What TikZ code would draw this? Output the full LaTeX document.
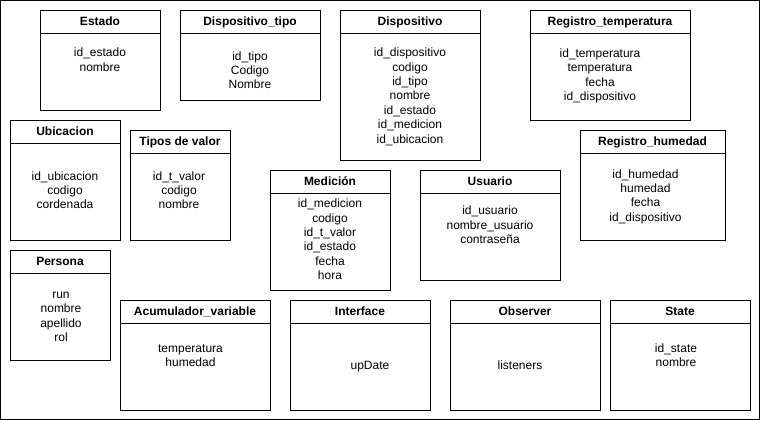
\documentclass[tikz,border=0pt]{standalone}
\usepackage{fontspec}
\setmainfont{Liberation Sans}

\tikzset{every picture/.style={line width=0.75pt}}
\tikzset{
  titulo/.style={anchor=base, inner sep=0pt, font=\fontsize{9}{10.8}\selectfont\bfseries},
  % base = baseline of the last line
  campos/.style={anchor=base, inner sep=0pt, align=center, font=\fontsize{9}{10.8}\selectfont},
}

\begin{document}
\begin{tikzpicture}[x=0.75pt,y=0.75pt,yscale=-1,xscale=1]
    \useasboundingbox (0,0) rectangle (761,421);
    %Shape: Rectangle [id:marco] 
    \draw   (0.5,0.5) rectangle (759,419.5) ;

    %Shape: Rectangle [id:estado] 
    \draw   (40,10) rectangle (160,110) ;
    \draw   (40,33) -- (160,33) ;
    % Text Node
    \draw (100,25.5) node (estadoT) [titulo]  {Estado};
    % Text Node
    \draw (100,71.1) node (estadoC) [campos]  {id\_estado\\nombre};

    %Shape: Rectangle [id:dispositivo_tipo] 
    \draw   (180,10) rectangle (320,100) ;
    \draw   (180,33) -- (320,33) ;
    % Text Node
    \draw (250,25.5) node (tipoT) [titulo]  {Dispositivo\_tipo};
    % Text Node
    \draw (250,88.8) node (tipoC) [campos]  {id\_tipo\\Codigo\\Nombre};

    %Shape: Rectangle [id:dispositivo] 
    \draw   (340,10) rectangle (480,160) ;
    \draw   (340,33) -- (480,33) ;
    % Text Node
    \draw (410,25.5) node (dispT) [titulo]  {Dispositivo};
    % Text Node
    \draw (410,143.1) node (dispC) [campos]  {id\_dispositivo\\codigo\\id\_tipo\\nombre\\id\_estado\\id\_medicion\\id\_ubicacion};

    %Shape: Rectangle [id:registro_temperatura] 
    \draw   (530,10) rectangle (690,120) ;
    \draw   (530,33) -- (690,33) ;
    % Text Node
    \draw (610,25.5) node (tempT) [titulo]  {Registro\_temperatura};
    % Text Node
    \draw (600,100.5) node (tempC) [campos]  {id\_temperatura\\temperatura\\fecha\\id\_dispositivo};

    %Shape: Rectangle [id:ubicacion] 
    \draw   (10,120) rectangle (120,240) ;
    \draw   (10,143) -- (120,143) ;
    % Text Node
    \draw (65,135.5) node (ubicT) [titulo]  {Ubicacion};
    % Text Node
    \draw (65,208.8) node (ubicC) [campos]  {id\_ubicacion\\codigo\\cordenada};

    %Shape: Rectangle [id:tipos_valor] 
    \draw   (130,130) rectangle (230,240) ;
    \draw   (130,153) -- (230,153) ;
    % Text Node
    \draw (180,145.5) node (valorT) [titulo]  {Tipos de valor};
    % Text Node
    \draw (179,208.8) node (valorC) [campos]  {id\_t\_valor\\codigo\\nombre};

    %Shape: Rectangle [id:registro_humedad] 
    \draw   (580,130) rectangle (725,240) ;
    \draw   (580,153) -- (725,153) ;
    % Text Node
    \draw (652.5,145.5) node (humT) [titulo]  {Registro\_humedad};
    % Text Node
    \draw (645.5,221.2) node (humC) [campos]  {id\_humedad\\humedad\\fecha\\id\_dispositivo};

    %Shape: Rectangle [id:medicion] 
    \draw   (270,170) rectangle (390,290) ;
    \draw   (270,193) -- (390,193) ;
    % Text Node
    \draw (330,185.5) node (medT) [titulo]  {Medición};
    % Text Node
    \draw (330,279.7) node (medC) [campos]  {id\_medicion\\codigo\\id\_t\_valor\\id\_estado\\fecha\\hora};

    %Shape: Rectangle [id:usuario] 
    \draw   (420,170) rectangle (560,280) ;
    \draw   (420,193) -- (560,193) ;
    % Text Node
    \draw (490,185.5) node (userT) [titulo]  {Usuario};
    % Text Node
    \draw (490,243.5) node (userC) [campos]  {id\_usuario\\nombre\_usuario\\contraseña};

    %Shape: Rectangle [id:persona] 
    \draw   (10,250) rectangle (110,360) ;
    \draw   (10,273) -- (110,273) ;
    % Text Node
    \draw (60,265.5) node (persT) [titulo]  {Persona};
    % Text Node
    \draw (61,341.5) node (persC) [campos]  {run\\nombre\\apellido\\rol};

    %Shape: Rectangle [id:acumulador] 
    \draw   (120,300) rectangle (270,410) ;
    \draw   (120,323) -- (270,323) ;
    % Text Node
    \draw (195,315.5) node (acumT) [titulo]  {Acumulador\_variable};
    % Text Node
    \draw (190.5,366.7) node (acumC) [campos]  {temperatura\\humedad};

    %Shape: Rectangle [id:interface] 
    \draw   (290,300) rectangle (430,410) ;
    \draw   (290,323) -- (430,323) ;
    % Text Node
    \draw (360,315.5) node (interT) [titulo]  {Interface};
    % Text Node
    \draw (370,369) node (interC) [campos]  {upDate};

    %Shape: Rectangle [id:observer] 
    \draw   (450,300) rectangle (600,410) ;
    \draw   (450,323) -- (600,323) ;
    % Text Node
    \draw (525,315.5) node (obsT) [titulo]  {Observer};
    % Text Node
    \draw (520,369) node (obsC) [campos]  {listeners};

    %Shape: Rectangle [id:state] 
    \draw   (610,300) rectangle (750,410) ;
    \draw   (610,323) -- (750,323) ;
    % Text Node
    \draw (680,315.5) node (stateT) [titulo]  {State};
    % Text Node
    \draw (676,366.7) node (stateC) [campos]  {id\_state\\nombre};
\end{tikzpicture}
\end{document}
